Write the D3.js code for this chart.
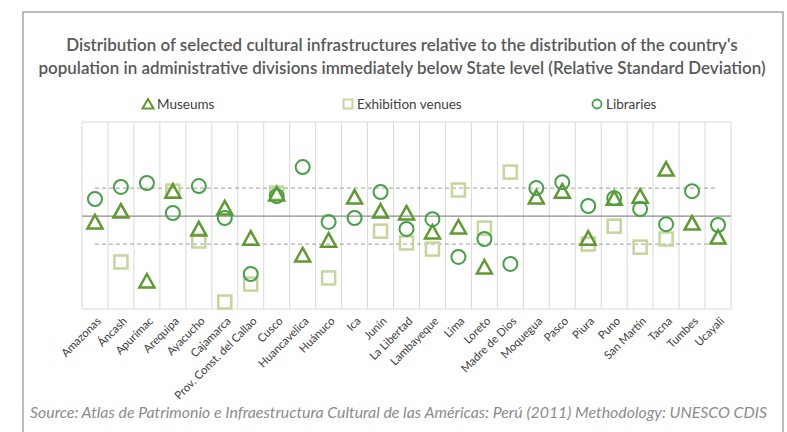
<!DOCTYPE html>
<html><head><meta charset="utf-8">
<script src="https://cdn.jsdelivr.net/npm/d3@7"></script>
<style>body{margin:0;background:#fff}svg{display:block}</style>
</head><body>
<svg id="c" width="787" height="432"></svg>
<script>
const categories = ["Amazonas","Áncash","Apurímac","Arequipa","Ayacucho","Cajamarca","Prov. Const. del Callao","Cusco","Huancavelica","Huánuco","Ica","Junín","La Libertad","Lambayeque","Lima","Loreto","Madre de Dios","Moquegua","Pasco","Piura","Puno","San Martín","Tacna","Tumbes","Ucayali"];
const museums =    [-0.21, 0.18,-2.32, 0.89,-0.46, 0.29,-0.79, 0.79,-1.39,-0.86, 0.68, 0.18, 0.11,-0.57,-0.39,-1.82, null, 0.68, 0.89,-0.79, 0.64, 0.71, 1.68,-0.25,-0.75];
const exhibition = [null,-1.64, null, 0.89,-0.89,-3.07,-2.43, 0.82, null,-2.21, null,-0.54,-0.96,-1.18, 0.93,-0.43, 1.57, null, null,-1.00,-0.36,-1.11,-0.82, null, null];
const libraries =  [0.61, 1.04, 1.18, 0.11, 1.07,-0.07,-2.07, 0.71, 1.75,-0.21,-0.07, 0.86,-0.46,-0.11,-1.46,-0.82,-1.71, 1.00, 1.21, 0.36, 0.64, 0.25,-0.29, 0.89,-0.32];
const refLines = [-1, 0, 1];
const titleLines = ["Distribution of selected cultural infrastructures relative to the distribution of the country's","population in administrative divisions immediately below State level  (Relative Standard Deviation)"];
const legendLabels = ["Museums","Exhibition venues","Libraries"];
const sourceText = "Source: Atlas de Patrimonio e Infraestructura Cultural de las Américas: Perú (2011) Methodology:  UNESCO CDIS";

const svg = d3.select("#c");
const font = "Lato, 'Open Sans', sans-serif";
const cTri = "#5f9a30", cSq = "#c3d69b", cCir = "#45a046";

svg.append("rect").attr("x",23).attr("y",12).attr("width",760).attr("height",440)
  .attr("fill","none").attr("stroke","#a6a6a6").attr("stroke-width",1.5);

function fitText(sel, w){
  const n = sel.node(); const l = n.getComputedTextLength();
  const fs = parseFloat(sel.attr("font-size"));
  sel.attr("font-size", fs * w / l);
}

const tw = [672, 728];
titleLines.forEach((t,i)=>{
  const s = svg.append("text").attr("x",402).attr("y",51+i*23).attr("text-anchor","middle")
   .attr("font-family",font).attr("font-weight",600).attr("font-size",14).attr("fill","#595959").text(t);
  fitText(s, tw[i]);
});

const x = d3.scaleBand().domain(categories).range([82,731]);
const y = d3.scaleLinear().domain([-3.32, 3.36]).range([309,122]);

const g = svg.append("g");
const bounds = categories.map(c=>x(c)).concat([x.range()[1]]);
g.selectAll("line.v").data(bounds).join("line").attr("class","v")
  .attr("x1",d=>d).attr("x2",d=>d).attr("y1",y.range()[1]).attr("y2",y.range()[0])
  .attr("stroke","#d9d9d9").attr("stroke-width",1);
[y.range()[0], y.range()[1]].forEach(v=>g.append("line").attr("x1",82).attr("x2",731).attr("y1",v).attr("y2",v).attr("stroke","#d9d9d9"));

refLines.forEach(r=>{
  if(r===0){
    g.append("line").attr("x1",82).attr("x2",731).attr("y1",y(0)).attr("y2",y(0)).attr("stroke","#8c8c8c").attr("stroke-width",1.2);
  } else {
    const c0 = x(categories[0])+x.bandwidth()/2, c1 = x(categories[categories.length-1])+x.bandwidth()/2;
    g.append("line").attr("x1",c0).attr("x2",c1).attr("y1",y(r)).attr("y2",y(r)).attr("stroke","#b0b0b0").attr("stroke-width",1.2).attr("stroke-dasharray","4,3");
  }
});

const cx = c => x(c)+x.bandwidth()/2;
const tri = "M0,-7L7.5,6.5L-7.5,6.5Z";
svg.append("g").selectAll("rect").data(categories.map((c,i)=>({c,v:exhibition[i]})).filter(d=>d.v!==null)).join("rect")
  .attr("x",d=>cx(d.c)-6.5).attr("y",d=>y(d.v)-6.5).attr("width",13).attr("height",13)
  .attr("fill","none").attr("stroke",cSq).attr("stroke-width",2.5);
svg.append("g").selectAll("path").data(categories.map((c,i)=>({c,v:museums[i]})).filter(d=>d.v!==null)).join("path")
  .attr("d",tri).attr("transform",d=>`translate(${cx(d.c)},${y(d.v)})`)
  .attr("fill","none").attr("stroke",cTri).attr("stroke-width",2.5).attr("stroke-linejoin","miter");
svg.append("g").selectAll("circle").data(categories.map((c,i)=>({c,v:libraries[i]})).filter(d=>d.v!==null)).join("circle")
  .attr("cx",d=>cx(d.c)).attr("cy",d=>y(d.v)).attr("r",7)
  .attr("fill","none").attr("stroke",cCir).attr("stroke-width",2);

svg.append("g").selectAll("text").data(categories).join("text")
  .attr("transform",d=>`translate(${cx(d)+4},${319}) rotate(-45)`)
  .attr("text-anchor","end").attr("dy","0.35em")
  .attr("font-family",font).attr("font-size",11.3).attr("fill","#404040").text(d=>d);

const leg = [{x:148, lab:legendLabels[0], t:"tri"},{x:348, lab:legendLabels[1], t:"sq"},{x:597, lab:legendLabels[2], t:"cir"}];
leg.forEach(l=>{
  const ly = 104;
  if(l.t==="tri") svg.append("path").attr("d","M0,-5L5.5,4.5L-5.5,4.5Z").attr("transform",`translate(${l.x},${ly})`).attr("fill","none").attr("stroke",cTri).attr("stroke-width",2);
  if(l.t==="sq") svg.append("rect").attr("x",l.x-4.5).attr("y",ly-4.5).attr("width",9).attr("height",9).attr("fill","none").attr("stroke",cSq).attr("stroke-width",2);
  if(l.t==="cir") svg.append("circle").attr("cx",l.x).attr("cy",ly).attr("r",4.5).attr("fill","none").attr("stroke",cCir).attr("stroke-width",1.8);
  svg.append("text").attr("x",l.x+9).attr("y",ly).attr("dy","0.35em").attr("font-family",font).attr("font-size",13.5).attr("fill","#404040").text(l.lab);
});

const s = svg.append("text").attr("x",30).attr("y",418).attr("font-family",font).attr("font-style","italic")
  .attr("font-size",13).attr("fill","#8c8c8c").text(sourceText);
fitText(s, 737);
</script>
</body></html>
